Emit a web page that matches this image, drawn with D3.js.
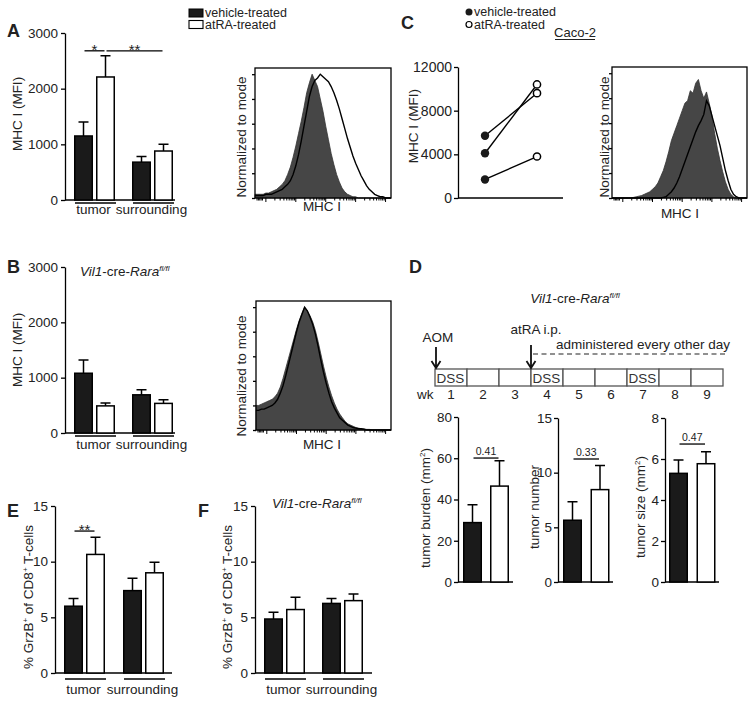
<!DOCTYPE html>
<html>
<head>
<meta charset="utf-8">
<script src="https://cdn.jsdelivr.net/npm/d3@7"></script>
<style>
  body { margin: 0; background: #fff; }
  svg { font-family: Arial, "Liberation Sans", sans-serif; }
</style>
</head>
<body>
<svg id="fig" width="754" height="702"></svg>
<script>
// ---- data ----
const groups = ["tumor", "surrounding"];
const series = ["vehicle", "atRA"];

// A: MHC I (MFI), wild type
const aVehicle = [1150, 680], aVehicleSem = [250, 100];
const aAtra = [2210, 880], aAtraSem = [380, 120];
// B: MHC I (MFI), Vil1-cre-Rara fl/fl
const bVehicle = [1080, 690], bVehicleSem = [240, 90];
const bAtra = [490, 535], bAtraSem = [50, 65];
// C: Caco-2 paired MFI
const cVehicle = [5700, 4100, 1700];
const cAtra = [9600, 10400, 3800];
// D: tumor burden / number / size
const dBurden = [28.8, 46.5], dBurdenSem = [8.7, 12.3];
const dNumber = [5.65, 8.45], dNumberSem = [1.7, 2.2];
const dSize = [5.3, 5.77], dSizeSem = [0.65, 0.58];
// E / F: % GrzB+ of CD8+ T-cells
const eVehicle = [6.0, 7.4], eVehicleSem = [0.7, 1.1];
const eAtra = [10.65, 9.0], eAtraSem = [1.55, 0.95];
const fVehicle = [4.85, 6.25], fVehicleSem = [0.6, 0.45];
const fAtra = [5.7, 6.5], fAtraSem = [1.1, 0.6];

// timeline
const weeks = ["1", "2", "3", "4", "5", "6", "7", "8", "9"];
const dssWeeks = ["1", "4", "7"];

// histograms (% of mode, read along the MHC I axis, 0..100 = box width)
const histBins = [0, 2, 4, 6, 8, 10, 12, 14, 16, 18, 20, 22, 24, 26, 28, 30, 32, 34, 36, 38, 40,
  42, 44, 46, 48, 50, 52, 54, 56, 58, 60, 62, 64, 66, 68, 70, 72, 74, 76, 78, 80,
  82, 84, 86, 88, 90, 92, 94, 96, 98, 100];
const histAFilled = [3, 3, 3, 3, 4, 4, 5, 6, 7, 9, 11, 14, 19, 25, 33, 42, 52, 62, 73, 85, 93,
  100, 95, 90, 80, 70, 58, 47, 36, 27, 19, 13, 8, 5, 3, 2, 1, 1, 0, 0, 0, 0, 0, 0, 0, 0, 0, 0, 0, 0, 0];
const histAOpen = [2, 2, 2, 2, 3, 3, 3, 4, 5, 6, 7, 9, 11, 14, 19, 26, 35, 46, 58, 70, 82,
  90, 95, 97, 100, 98, 96, 94, 90, 85, 79, 72, 64, 56, 48, 41, 34, 28, 23, 18, 14, 10, 7, 5, 3, 2, 1, 1, 0, 0, 0];
const histBFilled = [20, 20, 21, 22, 23, 24, 25, 27, 30, 35, 42, 50, 58, 66, 74, 82, 89, 95, 100, 97, 93,
  88, 81, 72, 62, 52, 43, 35, 28, 22, 17, 13, 10, 7, 5, 4, 3, 2, 1.5, 1, 1, 0.5, 0.5, 0, 0, 0, 0, 0, 0, 0, 0];
const histBOpen = [16, 16, 17, 17, 18, 19, 20, 22, 25, 30, 36, 44, 53, 62, 71, 80, 88, 94, 100, 97, 92,
  86, 78, 68, 57, 47, 38, 30, 23, 18, 14, 10, 8, 6, 4, 3, 2, 1.5, 1, 1, 0.5, 0, 0, 0, 0, 0, 0, 0, 0, 0, 0];
const histCFilled = [0, 0, 0, 0, 0, 0, 0, 0, 0.5, 1, 1.5, 2, 3, 4, 5, 7, 9, 12, 17, 22, 29,
  37, 46, 52, 58, 64, 70, 76, 78, 86, 84, 92, 95, 86, 80, 85, 76, 66, 52, 40, 30, 21, 13, 7, 3, 1, 0, 0, 0, 0, 0];
const histCOpen = [0, 0, 0, 0, 0, 0, 0, 0, 0, 0, 0, 0, 0, 0, 0, 0, 0, 0, 0, 0.5, 1,
  3, 5, 8, 12, 17, 23, 29, 35, 41, 47, 53, 58, 62, 67, 78, 74, 66, 58, 50, 42, 32, 22, 14, 7, 3, 1, 0, 0, 0, 0];

// ---- drawing ----
const svg = d3.select("#fig");
const INK = "#1a1a1a";
const TXT = "#222";
const FS = 13.5;

function label(x, y, str, size, opts = {}) {
  const t = svg.append("text").attr("x", x).attr("y", y)
    .attr("font-size", size).attr("fill", TXT)
    .attr("text-anchor", opts.anchor || "start")
    .attr("font-weight", opts.bold ? "bold" : null)
    .text(str);
  if (opts.rotate) t.attr("transform", `rotate(-90,${x},${y})`);
  return t;
}

function vilLabel(x, y, anchor) {
  const t = svg.append("text").attr("x", x).attr("y", y).attr("font-size", FS)
    .attr("fill", TXT).attr("text-anchor", anchor || "start");
  t.append("tspan").attr("font-style", "italic").text("Vil1");
  t.append("tspan").text("-cre-");
  t.append("tspan").attr("font-style", "italic").text("Rara");
  t.append("tspan").attr("font-style", "italic").attr("font-size", 8).attr("dy", -5).text("fl/fl");
}

function styleAxis(a, fs) {
  a.attr("font-family", null).attr("font-size", null);
  a.selectAll("text").attr("font-size", fs).attr("fill", TXT);
  a.selectAll("line").attr("stroke", "#000").attr("stroke-width", 1.3);
  a.select(".domain").attr("stroke", "#000").attr("stroke-width", 1.3);
}

function barPanel(cfg) {
  const g = svg.append("g");
  const y = d3.scaleLinear().domain([0, cfg.max]).range([cfg.y0, cfg.y1]);
  const gw = 2 * cfg.barW + cfg.gap;
  const n = cfg.groups.length;
  const x = d3.scaleBand().domain(cfg.groups)
    .range([cfg.left, cfg.left + gw + (n > 1 ? cfg.step * (n - 1) : 0)])
    .paddingInner(n > 1 ? (cfg.step - gw) / cfg.step : 0).paddingOuter(0);
  const xs = d3.scaleBand().domain(series).range([0, gw])
    .paddingInner(cfg.gap / (cfg.barW + cfg.gap));

  g.append("g").attr("transform", `translate(${cfg.axisX},0)`)
    .call(d3.axisLeft(y).tickValues(cfg.ticks).tickFormat(d3.format("d"))
      .tickSize(4).tickSizeOuter(0).tickPadding(cfg.pad || 3))
    .call(a => styleAxis(a, FS));

  g.append("line").attr("x1", cfg.axisX).attr("x2", cfg.end)
    .attr("y1", y(0)).attr("y2", y(0)).attr("stroke", "#000").attr("stroke-width", 1.3);

  const rows = [];
  cfg.groups.forEach((grp, i) => series.forEach((s, j) =>
    rows.push({ grp, s, mean: cfg.means[j][i], sem: cfg.sems[j][i] })));
  const cx = d => x(d.grp) + xs(d.s) + xs.bandwidth() / 2;

  g.selectAll(".err").data(rows).enter().append("path")
    .attr("d", d => `M${cx(d)},${y(d.mean)}V${y(d.mean + d.sem)}M${cx(d) - 5},${y(d.mean + d.sem)}H${cx(d) + 5}`)
    .attr("stroke", "#000").attr("stroke-width", 1.5).attr("fill", "none");

  g.selectAll(".bar").data(rows).enter().append("rect")
    .attr("x", d => x(d.grp) + xs(d.s) + 0.75)
    .attr("width", xs.bandwidth() - 1.5)
    .attr("y", d => y(d.mean))
    .attr("height", d => y(0) - y(d.mean))
    .attr("fill", d => d.s === "vehicle" ? INK : "#fff")
    .attr("stroke", "#000").attr("stroke-width", 1.5);

  if (cfg.catLabels) {
    cfg.groups.forEach(grp => {
      g.append("line").attr("x1", x(grp) + 1).attr("x2", x(grp) + gw + 1)
        .attr("y1", y(0) + cfg.lineDy).attr("y2", y(0) + cfg.lineDy)
        .attr("stroke", "#000").attr("stroke-width", 1.3);
      g.append("text").attr("x", x(grp) + gw / 2 - 1).attr("y", y(0) + cfg.textDy)
        .attr("text-anchor", "middle").attr("font-size", 13.5).attr("fill", TXT).text(grp);
    });
  }

  (cfg.sig || []).forEach(sg => {
    const c1 = x(sg.from[0]) + xs(sg.from[1]) + xs.bandwidth() / 2;
    const c2 = x(sg.to[0]) + xs(sg.to[1]) + xs.bandwidth() / 2;
    g.append("line").attr("x1", c1 + 1).attr("x2", c2 - 1)
      .attr("y1", y(sg.y)).attr("y2", y(sg.y)).attr("stroke", "#000").attr("stroke-width", 1.3);
    const star = sg.label.indexOf("*") >= 0;
    g.append("text").attr("x", (c1 + c2) / 2).attr("y", y(sg.y) + (star ? 4 : -3))
      .attr("text-anchor", "middle").attr("font-size", star ? 15 : 10.5).attr("fill", TXT)
      .text(sg.label);
  });
  return y;
}

function histPanel(box, filled, open) {
  const x = d3.scaleLinear().domain([0, 100]).range([box.x0, box.x1]);
  const y = d3.scaleLinear().domain([0, 105]).range([box.y1, box.y0]);
  const pts = histBins.map((b, i) => ({ b, f: filled[i], o: open[i] }));
  svg.append("path").datum(pts)
    .attr("d", d3.area().x(d => x(d.b)).y0(y(0)).y1(d => y(d.f)))
    .attr("fill", "#464646").attr("stroke", "#333").attr("stroke-width", 0.8);
  svg.append("path").datum(pts)
    .attr("d", d3.line().x(d => x(d.b)).y(d => y(d.o)))
    .attr("fill", "none").attr("stroke", "#000").attr("stroke-width", 1.4);
  svg.append("rect").attr("x", box.x0).attr("y", box.y0)
    .attr("width", box.x1 - box.x0).attr("height", box.y1 - box.y0)
    .attr("fill", "none").attr("stroke", "#000").attr("stroke-width", 1.3);
  svg.append("g").attr("transform", `translate(${box.x0},0)`)
    .call(d3.axisLeft(y).tickValues([0, 20, 40, 60, 80, 100]).tickSize(3).tickFormat(""))
    .call(a => { styleAxis(a, 0); a.select(".domain").remove(); });
  // log-style minor ticks along the bottom
  const minor = [];
  [8, 30, 52, 74, 96].forEach((dec, k) => {
    minor.push({ v: dec, major: true });
    if (k < 4) [2, 3, 4, 5, 6, 7, 8, 9].forEach(m => minor.push({ v: dec + 22 * Math.log10(m), major: false }));
  });
  [1.5, 2.5, 3.5, 4.5, 5.5].forEach(v => minor.push({ v, major: false }));
  svg.append("g").selectAll("line").data(minor).enter().append("line")
    .attr("x1", d => x(d.v)).attr("x2", d => x(d.v))
    .attr("y1", box.y1).attr("y2", d => box.y1 + (d.major ? 4 : 2.5))
    .attr("stroke", "#000").attr("stroke-width", 1);
  label(box.labX, box.labY, "MHC I", FS, { anchor: "middle" });
  label(box.normX, box.normY, "Normalized to mode", FS, { anchor: "middle", rotate: true });
}

// ---- Panel A ----
label(7, 37, "A", 18, { bold: true });
svg.append("rect").attr("x", 189).attr("y", 9).attr("width", 14).attr("height", 8)
  .attr("fill", INK).attr("stroke", "#000");
svg.append("rect").attr("x", 189).attr("y", 20.5).attr("width", 14).attr("height", 8)
  .attr("fill", "#fff").attr("stroke", "#000").attr("stroke-width", 1.1);
label(205, 16.5, "vehicle-treated", 12.5);
label(205, 29, "atRA-treated", 12.5);

barPanel({
  groups, axisX: 65, y0: 200, y1: 33, max: 3000, ticks: [0, 1000, 2000, 3000],
  left: 74, step: 58, barW: 19, gap: 3, end: 175,
  means: [aVehicle, aAtra], sems: [aVehicleSem, aAtraSem],
  catLabels: true, lineDy: 3, textDy: 14,
  sig: [
    { from: ["tumor", "vehicle"], to: ["tumor", "atRA"], y: 2680, label: "*" },
    { from: ["tumor", "atRA"], to: ["surrounding", "atRA"], y: 2680, label: "**" }
  ]
});
label(22, 114, "MHC I (MFI)", FS, { anchor: "middle", rotate: true });

histPanel({ x0: 255, x1: 391, y0: 68, y1: 198, labX: 322, labY: 210.5, normX: 246, normY: 137 },
  histAFilled, histAOpen);

// ---- Panel B ----
label(7, 273, "B", 18, { bold: true });
vilLabel(80, 276);
barPanel({
  groups, axisX: 65, y0: 433, y1: 267, max: 3000, ticks: [0, 1000, 2000, 3000],
  left: 74, step: 58, barW: 19, gap: 3, end: 175,
  means: [bVehicle, bAtra], sems: [bVehicleSem, bAtraSem],
  catLabels: true, lineDy: 3, textDy: 16
});
label(22, 350, "MHC I (MFI)", FS, { anchor: "middle", rotate: true });
histPanel({ x0: 256, x1: 391, y0: 301, y1: 430, labX: 322, labY: 449, normX: 246, normY: 376 },
  histBFilled, histBOpen);

// ---- Panel C ----
label(401, 29, "C", 18, { bold: true });
svg.append("circle").attr("cx", 469).attr("cy", 12).attr("r", 3.5).attr("fill", INK);
svg.append("circle").attr("cx", 469).attr("cy", 24.5).attr("r", 3).attr("fill", "#fff")
  .attr("stroke", "#000").attr("stroke-width", 1.2);
label(474, 16, "vehicle-treated", 12.5);
label(474, 28.5, "atRA-treated", 12.5);
label(575, 37, "Caco-2", 13, { anchor: "middle" });
svg.append("line").attr("x1", 555).attr("x2", 595).attr("y1", 39.5).attr("y2", 39.5)
  .attr("stroke", TXT).attr("stroke-width", 1);

const cY = d3.scaleLinear().domain([0, 12000]).range([198, 67]);
const cX = d3.scalePoint().domain(series).range([485, 537]);
svg.append("g").attr("transform", "translate(458,0)")
  .call(d3.axisLeft(cY).tickValues([0, 4000, 8000, 12000]).tickFormat(d3.format("d"))
    .tickSize(4).tickSizeOuter(0).tickPadding(2))
  .call(a => styleAxis(a, 14));
svg.append("line").attr("x1", 458).attr("x2", 563).attr("y1", cY(0)).attr("y2", cY(0))
  .attr("stroke", "#000").attr("stroke-width", 1.3);
const cPairs = cVehicle.map((v, i) => ({ v, a: cAtra[i] }));
svg.selectAll(".pair").data(cPairs).enter().append("line")
  .attr("x1", cX("vehicle")).attr("x2", cX("atRA"))
  .attr("y1", d => cY(d.v)).attr("y2", d => cY(d.a))
  .attr("stroke", "#000").attr("stroke-width", 1.4);
svg.selectAll(".cv").data(cVehicle).enter().append("circle")
  .attr("cx", cX("vehicle")).attr("cy", d => cY(d)).attr("r", 4.2).attr("fill", INK);
svg.selectAll(".ca").data(cAtra).enter().append("circle")
  .attr("cx", cX("atRA")).attr("cy", d => cY(d)).attr("r", 3.6).attr("fill", "#fff")
  .attr("stroke", "#000").attr("stroke-width", 1.5);
label(418, 126, "MHC I (MFI)", FS, { anchor: "middle", rotate: true });

histPanel({ x0: 612, x1: 747, y0: 67, y1: 198, labX: 680, labY: 218, normX: 609, normY: 137 },
  histCFilled, histCOpen);

// ---- Panel D timeline ----
label(409, 273, "D", 18, { bold: true });
vilLabel(575, 303, "middle");
const tl = d3.scaleBand().domain(weeks).range([435, 723]);
svg.selectAll(".wkbox").data(weeks).enter().append("rect")
  .attr("x", d => tl(d)).attr("y", 369).attr("width", tl.bandwidth()).attr("height", 17)
  .attr("fill", "#fff").attr("stroke", "#555").attr("stroke-width", 1.3);
svg.selectAll(".dss").data(dssWeeks).enter().append("text")
  .attr("x", d => tl(d) + 1.5).attr("y", 383).attr("font-size", 13.5).attr("fill", "#333").text("DSS");
svg.selectAll(".wk").data(weeks).enter().append("text")
  .attr("x", d => tl(d) + tl.bandwidth() / 2).attr("y", 399).attr("text-anchor", "middle")
  .attr("font-size", 13.5).attr("fill", TXT).text(d => d);
label(417, 399, "wk", 13.5);

function arrow(x, yTop, yBot) {
  svg.append("path").attr("d", `M${x},${yTop}V${yBot}M${x - 4.5},${yBot - 7}L${x},${yBot}L${x + 4.5},${yBot - 7}`)
    .attr("fill", "none").attr("stroke", "#111").attr("stroke-width", 1.8);
}
arrow(tl("1") + 1, 347, 368);
label(tl("1") + 3, 342, "AOM", FS, { anchor: "middle" });
arrow(tl("4"), 345, 368);
label(tl("4") + 5, 334, "atRA i.p.", FS, { anchor: "middle" });
svg.append("line").attr("x1", tl("4") + 2).attr("x2", 726).attr("y1", 354).attr("y2", 354)
  .attr("stroke", "#222").attr("stroke-width", 1.2).attr("stroke-dasharray", "5,3.5");
label(556, 349, "administered every other day", FS);

// ---- Panel D bars ----
barPanel({
  groups: [""], axisX: 458, y0: 582, y1: 417, max: 80, ticks: [0, 20, 40, 60, 80],
  left: 463, step: 0, barW: 19, gap: 8, end: 513, pad: 2,
  means: [[dBurden[0]], [dBurden[1]]], sems: [[dBurdenSem[0]], [dBurdenSem[1]]],
  sig: [{ from: ["", "vehicle"], to: ["", "atRA"], y: 60.1, label: "0.41" }]
});
barPanel({
  groups: [""], axisX: 558, y0: 582, y1: 418, max: 15, ticks: [0, 5, 10, 15],
  left: 563, step: 0, barW: 19, gap: 8.5, end: 613, pad: 2,
  means: [[dNumber[0]], [dNumber[1]]], sems: [[dNumberSem[0]], [dNumberSem[1]]],
  sig: [{ from: ["", "vehicle"], to: ["", "atRA"], y: 11.25, label: "0.33" }]
});
barPanel({
  groups: [""], axisX: 665, y0: 582, y1: 418, max: 8, ticks: [0, 2, 4, 6, 8],
  left: 669, step: 0, barW: 19, gap: 8.5, end: 719, pad: 2,
  means: [[dSize[0]], [dSize[1]]], sems: [[dSizeSem[0]], [dSizeSem[1]]],
  sig: [{ from: ["", "vehicle"], to: ["", "atRA"], y: 6.73, label: "0.47" }]
});
function mm2Label(x, y, str) {
  const t = svg.append("text").attr("x", x).attr("y", y).attr("font-size", FS).attr("fill", TXT)
    .attr("text-anchor", "middle").attr("transform", `rotate(-90,${x},${y})`);
  t.append("tspan").text(str + " (mm");
  t.append("tspan").attr("font-size", 8).attr("dy", -5).text("2");
  t.append("tspan").attr("dy", 5).text(")");
}
mm2Label(430, 508, "tumor burden");
label(539, 507, "tumor number", FS, { anchor: "middle", rotate: true });
mm2Label(645, 507, "tumor size");

// ---- Panel E / F ----
function grzLabel(x, y) {
  const t = svg.append("text").attr("x", x).attr("y", y).attr("font-size", FS).attr("fill", TXT)
    .attr("text-anchor", "middle").attr("transform", `rotate(-90,${x},${y})`);
  t.append("tspan").text("% GrzB");
  t.append("tspan").attr("font-size", 8).attr("dy", -5).text("+");
  t.append("tspan").attr("dy", 5).text(" of CD8");
  t.append("tspan").attr("font-size", 8).attr("dy", -5).text("+");
  t.append("tspan").attr("dy", 5).text(" T-cells");
}
label(7, 517, "E", 18, { bold: true });
barPanel({
  groups, axisX: 55, y0: 673, y1: 506, max: 15, ticks: [0, 5, 10, 15],
  left: 64, step: 59, barW: 19, gap: 3, end: 172,
  means: [eVehicle, eAtra], sems: [eVehicleSem, eAtraSem],
  catLabels: true, lineDy: 6, textDy: 20.5,
  sig: [{ from: ["tumor", "vehicle"], to: ["tumor", "atRA"], y: 12.75, label: "**" }]
});
grzLabel(33, 597);

label(198, 517, "F", 18, { bold: true });
vilLabel(272, 508);
barPanel({
  groups, axisX: 255, y0: 673, y1: 506, max: 15, ticks: [0, 5, 10, 15],
  left: 264, step: 58, barW: 19, gap: 3, end: 372,
  means: [fVehicle, fAtra], sems: [fVehicleSem, fAtraSem],
  catLabels: true, lineDy: 6, textDy: 20.5
});
grzLabel(232, 597);
</script>
</body>
</html>
